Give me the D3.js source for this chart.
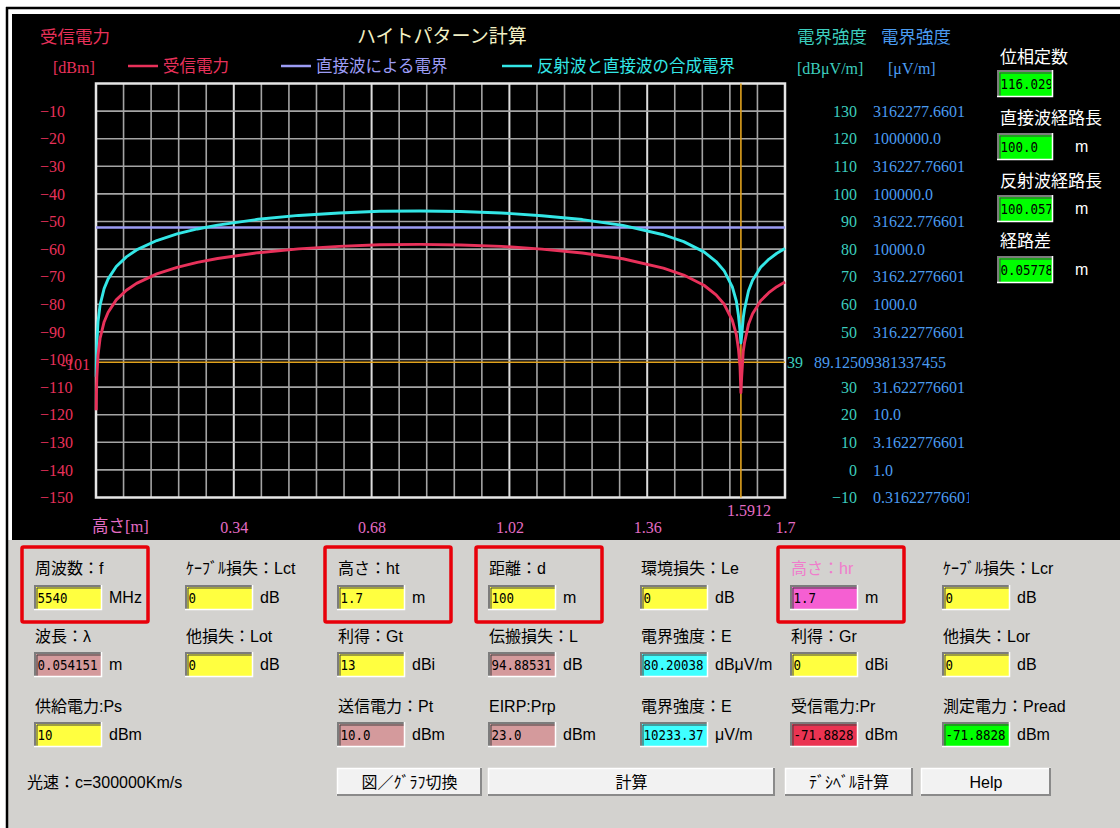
<!DOCTYPE html>
<html>
<head>
<meta charset="utf-8">
<script src="https://cdn.jsdelivr.net/npm/d3@7"></script>
<style>
  body { margin: 0; background: #ffffff; }
  svg { display: block; }
</style>
</head>
<body>
<svg id="chart" width="1120" height="828"></svg>
<script>
// ---------- data ----------
// receiver antenna height [m]
const heights = [0.0005, 0.001, 0.002, 0.005, 0.01, 0.02, 0.03, 0.05, 0.075, 0.1,
  0.15, 0.2, 0.25, 0.3, 0.4, 0.5, 0.6, 0.7, 0.8, 0.9,
  1.0, 1.1, 1.2, 1.3, 1.4, 1.45, 1.5, 1.53, 1.55, 1.57,
  1.58, 1.585, 1.589, 1.5912, 1.593, 1.597, 1.6, 1.61, 1.62, 1.64,
  1.66, 1.68, 1.7];
// received power [dBm]
const receivedPower = [-118.4, -112.4, -106.4, -98.4, -92.4, -86.4, -82.9, -78.4, -74.9, -72.4,
  -69.0, -66.6, -64.8, -63.4, -61.3, -59.9, -59.0, -58.4, -58.3, -58.5,
  -59.0, -60.0, -61.4, -63.5, -66.9, -69.4, -73.1, -76.6, -80.0, -85.8,
  -91.0, -96.0, -102.5, -112.0, -106.5, -97.0, -94.0, -87.2, -83.4, -78.7,
  -75.8, -73.6, -71.9];
// composite field of direct + reflected wave [dBμV/m]
const compositeField = [33.7, 39.7, 45.7, 53.7, 59.7, 65.7, 69.2, 73.7, 77.2, 79.7,
  83.1, 85.5, 87.3, 88.7, 90.8, 92.2, 93.1, 93.7, 93.8, 93.6,
  93.1, 92.1, 90.7, 88.6, 85.2, 82.7, 79.0, 75.5, 72.1, 66.3,
  61.1, 56.1, 50.5, 46.0, 48.5, 55.1, 58.1, 64.9, 68.7, 73.4,
  76.3, 78.5, 80.2];
// field of the direct wave alone [dBμV/m]
const directHeights = [0, 1.7];
const directField = [87.8, 87.8];

// axis ticks
const powerTicks = [-10, -20, -30, -40, -50, -60, -70, -80, -90, -100, -110, -120, -130, -140, -150];
const fieldTicks = [130, 120, 110, 100, 90, 80, 70, 60, 50, 30, 20, 10, 0, -10];
const fieldUvLabels = ["3162277.6601", "1000000.0", "316227.76601", "100000.0", "31622.776601",
  "10000.0", "3162.2776601", "1000.0", "316.22776601", "31.622776601", "10.0",
  "3.1622776601", "1.0", "0.31622776601"];
const heightTicks = [0.34, 0.68, 1.02, 1.36, 1.7];
const gridStep = 0.068;

// cursor
const markerHeight = 1.5912;
const markerPower = -101;
const markerField = 39;
const markerFieldUv = "89.12509381337455";

// side readouts
const sideLabels = ["位相定数", "直接波経路長", "反射波経路長", "経路差"];
const sideValues = ["116.0294", "100.0", "100.0577", "0.057783"];
const sideUnits = ["", "m", "m", "m"];

// parameter form
const formColumns = [34, 185, 337, 488, 640, 790, 942];
const row1Labels = ["周波数：f", "ｹｰﾌﾞﾙ損失：Lct", "高さ：ht", "距離：d", "環境損失：Le", "高さ：hr", "ｹｰﾌﾞﾙ損失：Lcr"];
const row1Values = ["5540", "0", "1.7", "100", "0", "1.7", "0"];
const row1Units = ["MHz", "dB", "m", "m", "dB", "m", "dB"];
const row1Fills = ["yellow", "yellow", "yellow", "yellow", "yellow", "pink", "yellow"];
const row2Labels = ["波長：λ", "他損失：Lot", "利得：Gt", "伝搬損失：L", "電界強度：E", "利得：Gr", "他損失：Lor"];
const row2Values = ["0.054151", "0", "13", "94.88531", "80.20038", "0", "0"];
const row2Units = ["m", "dB", "dBi", "dB", "dBμV/m", "dBi", "dB"];
const row2Fills = ["rose", "yellow", "yellow", "rose", "cyan", "yellow", "yellow"];
const row3Labels = ["供給電力:Ps", null, "送信電力：Pt", "EIRP:Prp", "電界強度：E", "受信電力:Pr", "測定電力：Pread"];
const row3Values = ["10", null, "10.0", "23.0", "10233.37", "-71.8828", "-71.8828"];
const row3Units = ["dBm", null, "dBm", "dBm", "μV/m", "dBm", "dBm"];
const row3Fills = ["yellow", null, "rose", "rose", "cyan", "red", "green"];
const buttonLabels = ["図／ｸﾞﾗﾌ切換", "計算", "ﾃﾞｼﾍﾞﾙ計算", "Help"];
const buttonSpans = [[337, 482], [488, 775], [785, 913], [921, 1051]];
const highlightCols = [0, 2, 3, 5];

// ---------- styles ----------
const JP = "'Noto Sans CJK JP', sans-serif";
const SERIF = "'Liberation Serif', 'Noto Sans CJK JP', serif";
const SANS = "'Liberation Sans', 'Noto Sans CJK JP', sans-serif";
const MONO = "'DejaVu Sans Mono', monospace";
const C = {
  power: "#e8315a",
  composite: "#33e6e6",
  direct: "#9c9cf4",
  marker: "#e0a21e",
  teal: "#3ccdbd",
  blue: "#4a9bf0",
  pink: "#e46cc4",
  title: "#f2f0c4",
  grid: "#a4a4a4",
  gridMajor: "#dcdcdc",
  frame: "#e6e6e6",
  panel: "#d3d2cf"
};
const boxFills = { yellow: "#ffff40", rose: "#d49a9c", cyan: "#40ffff", pink: "#f55fd2", red: "#ea3452", green: "#00ff00" };
const NUM = 16;

const svg = d3.select("#chart");

// ---------- window frame ----------
svg.append("rect").attr("x", 12).attr("y", 14).attr("width", 1108).attr("height", 526).attr("fill", "#000");
svg.append("rect").attr("x", 8).attr("y", 540).attr("width", 1112).attr("height", 288).attr("fill", C.panel);
svg.append("line").attr("x1", 6).attr("x2", 1120).attr("y1", 8).attr("y2", 8).attr("stroke", "#000").attr("stroke-width", 2.5);
svg.append("line").attr("x1", 7).attr("x2", 7).attr("y1", 7).attr("y2", 828).attr("stroke", "#000").attr("stroke-width", 2.5);

// ---------- scales ----------
const x = d3.scaleLinear().domain([0, 1.7]).range([96, 785]);
const y = d3.scaleLinear().domain([-150, 0]).range([497.5, 83.5]);
const yField = d3.scaleLinear().domain([-10, 140]).range([497.5, 83.5]);

// ---------- grid ----------
const grid = svg.append("g");
const vTicks = d3.range(1, Math.round(1.7 / gridStep));
grid.selectAll("line.v").data(vTicks).join("line")
  .attr("x1", i => x(i * gridStep)).attr("x2", i => x(i * gridStep))
  .attr("y1", y(0)).attr("y2", y(-150))
  .attr("stroke", i => i % 5 === 0 ? C.gridMajor : C.grid)
  .attr("stroke-width", i => i % 5 === 0 ? 2 : 1.6);
grid.selectAll("line.h").data(d3.range(-140, 0, 10)).join("line")
  .attr("x1", x(0)).attr("x2", x(1.7))
  .attr("y1", d => y(d)).attr("y2", d => y(d))
  .attr("stroke", C.grid).attr("stroke-width", 1.6);
grid.append("rect").attr("x", x(0)).attr("y", y(0))
  .attr("width", x(1.7) - x(0)).attr("height", y(-150) - y(0))
  .attr("fill", "none").attr("stroke", C.frame).attr("stroke-width", 2.5);

// ---------- cursor lines ----------
svg.append("line").attr("x1", x(0)).attr("x2", x(1.7))
  .attr("y1", y(markerPower)).attr("y2", y(markerPower))
  .attr("stroke", C.marker).attr("stroke-width", 1.6);
svg.append("line").attr("x1", x(markerHeight)).attr("x2", x(markerHeight))
  .attr("y1", y(0)).attr("y2", y(-150))
  .attr("stroke", C.marker).attr("stroke-width", 1.6);

// ---------- series ----------
const lineField = d3.line().x(d => x(d[0])).y(d => yField(d[1]));
const linePower = d3.line().x(d => x(d[0])).y(d => y(d[1]));
svg.append("path").datum(d3.zip(directHeights, directField))
  .attr("d", lineField).attr("fill", "none").attr("stroke", C.direct).attr("stroke-width", 2.6);
svg.append("path").datum(d3.zip(heights, compositeField))
  .attr("d", lineField).attr("fill", "none").attr("stroke", C.composite).attr("stroke-width", 2.9)
  .attr("stroke-linejoin", "round");
svg.append("path").datum(d3.zip(heights, receivedPower))
  .attr("d", linePower).attr("fill", "none").attr("stroke", C.power).attr("stroke-width", 2.9)
  .attr("stroke-linejoin", "round");

// ---------- axes ----------
function styleAxis(g, color, family, size) {
  g.select(".domain").remove();
  g.selectAll(".tick line").remove();
  g.selectAll("text").attr("fill", color).attr("font-family", family).attr("font-size", size);
}
svg.append("g").attr("transform", "translate(40,0)")
  .call(d3.axisRight(y).tickValues(powerTicks).tickSize(0).tickPadding(0))
  .call(g => styleAxis(g, C.power, SERIF, NUM));
svg.append("g").attr("transform", "translate(857,0)")
  .call(d3.axisLeft(yField).tickValues(fieldTicks).tickSize(0).tickPadding(0))
  .call(g => styleAxis(g, C.teal, SERIF, NUM));

svg.append("clipPath").attr("id", "uvClip")
  .append("rect").attr("x", 860).attr("y", 60).attr("width", 109).attr("height", 460);
svg.append("g").attr("clip-path", "url(#uvClip)")
  .append("g").attr("transform", "translate(873,0)")
  .call(d3.axisRight(yField).tickValues(fieldTicks)
    .tickFormat(d => fieldUvLabels[fieldTicks.indexOf(d)]).tickSize(0).tickPadding(0))
  .call(g => styleAxis(g, C.blue, SERIF, NUM));

svg.append("g").attr("transform", "translate(0,527)")
  .call(d3.axisBottom(x).tickValues(heightTicks).tickFormat(d => String(d)).tickSize(0).tickPadding(0))
  .call(g => styleAxis(g, C.pink, SERIF, NUM))
  .call(g => g.selectAll("text").attr("dy", "0.35em"));

// cursor readouts
svg.append("text").attr("x", 90).attr("y", y(markerPower) + 2).attr("dy", "0.35em")
  .attr("text-anchor", "end").attr("fill", C.power).attr("font-family", SERIF).attr("font-size", NUM)
  .text(markerPower);
svg.append("text").attr("x", 787).attr("y", yField(markerField)).attr("dy", "0.35em")
  .attr("fill", C.teal).attr("font-family", SERIF).attr("font-size", NUM).text(markerField);
svg.append("text").attr("x", 814).attr("y", yField(markerField)).attr("dy", "0.35em")
  .attr("fill", C.blue).attr("font-family", SERIF).attr("font-size", NUM).text(markerFieldUv);
svg.append("text").attr("x", x(markerHeight) + 8).attr("y", 510).attr("dy", "0.35em")
  .attr("text-anchor", "middle").attr("fill", C.pink).attr("font-family", SERIF).attr("font-size", NUM)
  .text(markerHeight);

// ---------- titles and legend ----------
function label(g, tx, ty, str, color, family, size, anchor) {
  return g.append("text").attr("x", tx).attr("y", ty).attr("fill", color)
    .attr("font-family", family).attr("font-size", size)
    .attr("text-anchor", anchor || "start").text(str);
}
label(svg, 40, 43, "受信電力", C.power, JP, 17.5);
label(svg, 53, 73, "[dBm]", C.power, SERIF, NUM);
label(svg, 357, 43, "ハイトパターン計算", C.title, JP, 19);
label(svg, 797, 43, "電界強度", C.teal, JP, 17.5);
label(svg, 881, 43, "電界強度", C.blue, JP, 17.5);
label(svg, 797, 74, "[dBμV/m]", C.teal, SERIF, NUM);
label(svg, 888, 74, "[μV/m]", C.blue, SERIF, NUM);
label(svg, 92, 532, "高さ[m]", C.pink, SERIF, 16.5);

const legend = [
  { x: 128, text: "受信電力", color: C.power },
  { x: 281, text: "直接波による電界", color: C.direct },
  { x: 502, text: "反射波と直接波の合成電界", color: C.composite }
];
legend.forEach(l => {
  svg.append("line").attr("x1", l.x).attr("x2", l.x + 30).attr("y1", 66).attr("y2", 66)
    .attr("stroke", l.color).attr("stroke-width", 2.5);
  label(svg, l.x + 35, 72, l.text, l.color, JP, 16.5);
});

// ---------- sunken text boxes ----------
function textBox(g, bx, by, w, h, fill, str) {
  g.append("rect").attr("x", bx).attr("y", by).attr("width", w).attr("height", h).attr("fill", fill);
  g.append("path").attr("d", `M${bx + 1},${by + h}V${by + 1}H${bx + w}`)
    .attr("fill", "none").attr("stroke", "#7c7c7c").attr("stroke-width", 2);
  g.append("path").attr("d", `M${bx + 3},${by + h - 1}V${by + 3}H${bx + w - 1}`)
    .attr("fill", "none").attr("stroke", "#404040").attr("stroke-width", 1);
  g.append("path").attr("d", `M${bx},${by + h - 0.5}H${bx + w - 0.5}V${by}`)
    .attr("fill", "none").attr("stroke", "#ffffff").attr("stroke-width", 1.5);
  const inner = g.append("svg").attr("x", bx + 3.5).attr("y", by + 2)
    .attr("width", w - 5.5).attr("height", h - 4);
  inner.append("text").attr("transform", `translate(0,${(h - 4) / 2}) scale(0.86,1)`)
    .attr("dy", "0.36em")
    .attr("font-family", MONO).attr("font-size", 14.5).attr("fill", "#000").text(str);
}

// side readouts on the dark panel
const sideLabelY = [63, 124, 187, 247];
const sideBoxY = [70, 133, 195, 256];
sideLabels.forEach((s, i) => {
  label(svg, 1000, sideLabelY[i], s, "#ffffff", JP, 17);
  textBox(svg, 997, sideBoxY[i], 56, 27, boxFills.green, sideValues[i]);
  if (sideUnits[i]) label(svg, 1075, sideBoxY[i] + 19, sideUnits[i], "#ffffff", SANS, 16);
});

// ---------- parameter form ----------
const form = svg.append("g");
function formRow(labels, values, units, fills, labelY, boxY) {
  formColumns.forEach((cx, i) => {
    if (labels[i] === null) return;
    label(form, cx + 1, labelY, labels[i], (labels[i] === "高さ：hr") ? "#f07ccc" : "#000", SANS, 16);
    textBox(form, cx, boxY, 68, 25, boxFills[fills[i]], values[i]);
    label(form, cx + 75, boxY + 18, units[i], "#000", SANS, 16);
  });
}
formRow(row1Labels, row1Values, row1Units, row1Fills, 574, 585);
formRow(row2Labels, row2Values, row2Units, row2Fills, 642, 652);
formRow(row3Labels, row3Values, row3Units, row3Fills, 712, 722);

label(form, 27, 788, "光速：c=300000Km/s", "#000", SANS, 16);

buttonLabels.forEach((b, i) => {
  const [x0, x1] = buttonSpans[i];
  const bx = x0, by = 768, w = x1 - x0, h = 28;
  form.append("rect").attr("x", bx).attr("y", by).attr("width", w).attr("height", h).attr("fill", "#f2f2f2");
  form.append("path").attr("d", `M${bx + 0.5},${by + h}V${by + 0.5}H${bx + w}`)
    .attr("fill", "none").attr("stroke", "#ffffff").attr("stroke-width", 1.5);
  form.append("path").attr("d", `M${bx},${by + h - 1}H${bx + w - 1}V${by}`)
    .attr("fill", "none").attr("stroke", "#8a8a8a").attr("stroke-width", 2);
  label(form, bx + w / 2, by + 20, b, "#000", SANS, 16, "middle");
});

// highlighted input groups
highlightCols.forEach(ci => {
  const cx = formColumns[ci];
  form.append("rect").attr("x", cx - 12).attr("y", 547).attr("width", 126).attr("height", 75)
    .attr("fill", "none").attr("stroke", "#e8000a").attr("stroke-width", 3.5).attr("rx", 1.5);
});
</script>
</body>
</html>
